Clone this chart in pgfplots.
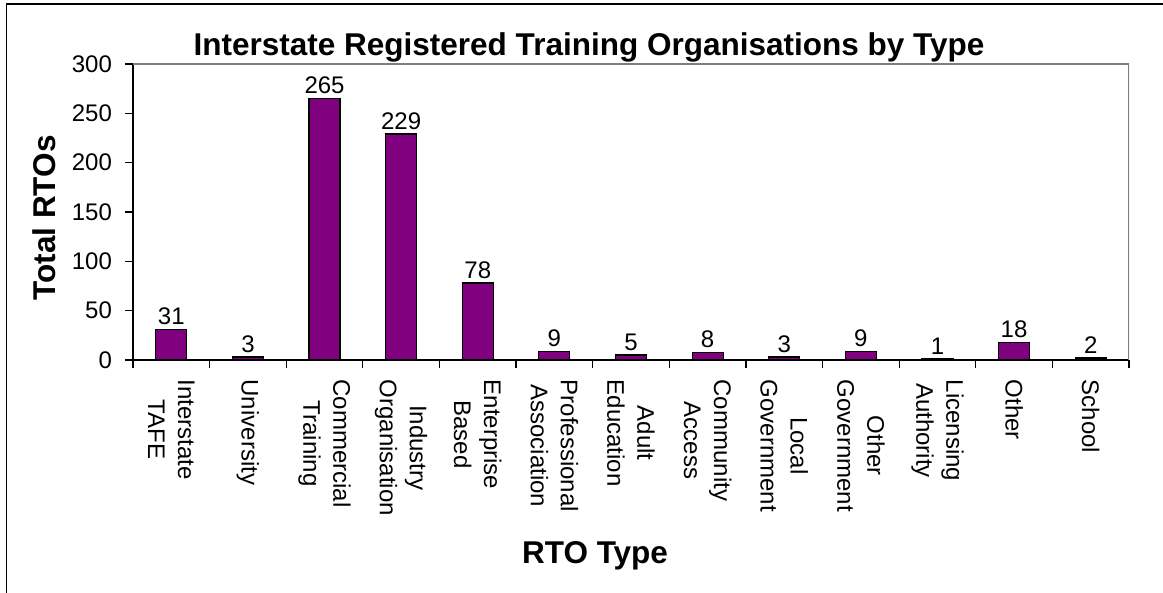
\documentclass[border=0pt]{standalone}
\usepackage{fontspec}
\setmainfont{Liberation Sans}
\usepackage{pgfplots}
\pgfplotsset{compat=1.18}
\definecolor{barpurple}{HTML}{800080}
\definecolor{framegray}{HTML}{808080}
\begin{document}
\begin{tikzpicture}
\useasboundingbox (0,0) rectangle (581.5pt,-296.5pt);
\draw[line width=0.6pt] (3.3pt,-296.5pt) -- (3.3pt,-2pt) -- (581.5pt,-2pt);
\begin{axis}[
 at={(66.5pt,-180pt)}, anchor=south west,
 scale only axis, width=498pt, height=148pt,
 xmin=-0.5, xmax=12.5, ymin=0, ymax=300,
 axis lines*=left,
 axis line style={line width=0.6pt, black},
 ytick={0,50,...,300},
 xtick={-0.5,0.5,...,12.5}, xticklabels={},
 tick align=outside, major tick length=4pt,
 tick style={black, line width=0.6pt},
 /pgf/number format/assume math mode=true,
 ticklabel style={font=\fontsize{12}{14}\selectfont},
 yticklabel style={xshift=-3pt},
 extra x ticks={0,1,...,12},
 extra x tick labels={{Interstate\\TAFE},{University},{Commercial\\Training},{Industry\\Organisation},{Enterprise\\Based},{Professional\\Association},{Adult\\Education},{Community\\Access},{Local\\Government},{Other\\Government},{Licensing\\Authority},{Other},{School}},
 extra x tick style={major tick length=0pt, xticklabel style={yshift=-6.3pt, rotate=-90, anchor=west, align=center, font=\fontsize{12}{15}\selectfont}},
 every axis title shift=0pt,
 title={Interstate Registered Training Organisations by Type},
 title style={at={(rel axis cs:0.4578,1.0304)}, anchor=base, font=\bfseries\fontsize{15.75}{18}\selectfont},
 xlabel={RTO Type},
 xlabel style={at={(rel axis cs:0.4639,-0.6858)}, anchor=base, font=\bfseries\fontsize{15.75}{18}\selectfont},
 ylabel={Total RTOs},
 ylabel style={at={(rel axis cs:-0.0783,0.4797)}, anchor=base, rotate=0, font=\bfseries\fontsize{15.75}{18}\selectfont},
]
\addplot[ybar, bar width=15.5pt, fill=barpurple, draw=black, line width=0.6pt,
  nodes near coords, nodes near coords style={font=\fontsize{12}{14}\selectfont, black, inner sep=2pt}]
 coordinates {(0,31) (1,3) (2,265) (3,229) (4,78) (5,9) (6,5) (7,8) (8,3) (9,9) (10,1) (11,18) (12,2)};
\draw[framegray, line width=0.6pt] (rel axis cs:0,1) -- (rel axis cs:1,1) -- (rel axis cs:1,0);
\end{axis}
\end{tikzpicture}
\end{document}
